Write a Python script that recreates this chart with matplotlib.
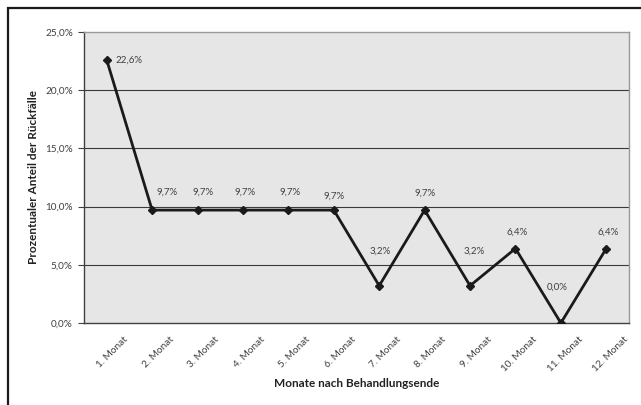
import numpy as np
import matplotlib
matplotlib.use('Agg')
from matplotlib import pyplot as plt
from matplotlib.patches import Rectangle

months = ['1. Monat', '2. Monat', '3. Monat', '4. Monat', '5. Monat', '6. Monat',
          '7. Monat', '8. Monat', '9. Monat', '10. Monat', '11. Monat', '12. Monat']
values = [22.6, 9.7, 9.7, 9.7, 9.7, 9.7, 3.2, 9.7, 3.2, 6.4, 0.0, 6.4]
y_ticks = [0, 5, 10, 15, 20, 25]

plt.rcParams['font.family'] = ['Lato', 'DejaVu Sans']

fig = plt.figure(figsize=(6.41, 4.05), dpi=100)
ax = fig.add_axes([84/641, 1 - 323/405, 545/641, 291/405])
ax.set_facecolor('#e6e6e6')

x = np.arange(len(months))
ax.plot(x, values, color='#1a1a1a', lw=2.0, marker='D', ms=4.5, zorder=3)

# label offsets (points) - excel nudges them around the line
lab_dx = [6, 11, 4, 1.5, 1, 0, 1, 0, 3, 1, -3, 1]
lab_dy = [0, 13, 13, 13, 13, 10, 25, 12, 25, 12, 26, 12]
for i, v in enumerate(values):
    lab = f'{v:.1f}%'.replace('.', ',')
    ax.annotate(lab, (i, v), xytext=(lab_dx[i], lab_dy[i]), textcoords='offset points',
                ha='left' if i == 0 else 'center', va='center', fontsize=7, color='#404040')

ax.set_xlim(-0.5, len(months) - 0.5)
ax.set_ylim(0, 25)
ax.set_yticks(y_ticks)
ax.set_yticklabels([f'{t:.1f}%'.replace('.', ',') for t in y_ticks])
ax.set_xticks(x)
ax.set_xticklabels([])
# rotated category labels, placed like excel does (shifted right of the tick)
for i, m in enumerate(months):
    ax.annotate(m, (i, 0), xycoords=('data', 'axes fraction'), xytext=(14.5, -11),
                textcoords='offset points', rotation=45, rotation_mode='anchor',
                ha='right', va='center', fontsize=7.2, color='#404040')
ax.tick_params(axis='x', length=0)
ax.tick_params(axis='y', length=4, width=0.8, color='#404040', pad=4,
               labelsize=7.2, labelcolor='#404040')

for t in y_ticks[1:-1]:
    ax.axhline(t, color='#3a3a3a', lw=0.8, zorder=1)

ax.spines['left'].set_color('#404040')
ax.spines['bottom'].set_color('#404040')
ax.spines['top'].set_color('#999999')
ax.spines['right'].set_color('#999999')
for s in ax.spines.values():
    s.set_linewidth(1.0)

ax.set_ylabel('Prozentualer Anteil der Rückfälle', fontsize=8.5, fontweight='bold', color='#222222')
ax.set_xlabel('Monate nach Behandlungsende', fontsize=8.5, fontweight='bold', color='#222222')
ax.yaxis.set_label_coords(-0.083, 0.5)
ax.xaxis.set_label_coords(0.5, -0.19)

# outer frame (only top and left are in view)
fig.patches.append(Rectangle((8/641, -0.1), 1.2, 1 - 8/405 + 0.1, transform=fig.transFigure,
                             fill=False, edgecolor='#1a1a1a', lw=1.6))

fig.savefig('out.png', dpi=100)
